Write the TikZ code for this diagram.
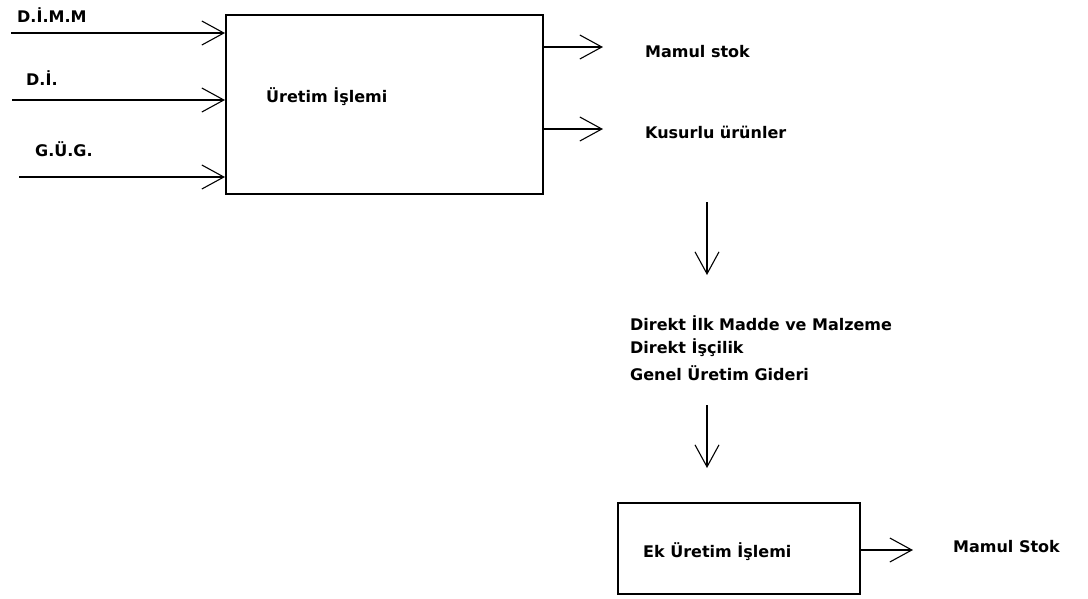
\documentclass[tikz,border=0pt]{standalone}
\usepackage{fontspec}
\setmainfont{DejaVu Sans}
\usetikzlibrary{arrows.meta}
\begin{document}
\begin{tikzpicture}[x=1pt,y=-1pt,
  flow/.style={line width=1.4pt,-{Straight Barb[length=22pt,width=24pt,line width=1.1pt]}},
  box/.style={draw,line width=1.6pt,anchor=north west,inner sep=0pt},
  lbl/.style={anchor=west,inner sep=0pt,font=\bfseries\fontsize{16}{19}\selectfont}]
\useasboundingbox (0,0) rectangle (1088,598);

% main process
\node[box,minimum width=317pt,minimum height=179pt] (main) at (225,14) {};
\node[lbl] (mainlbl) at (266,97) {Üretim İşlemi};

% inputs
\node[lbl] (dimm) at (17,15) {D.İ.M.M};
\node[lbl] (di) at (26,78) {D.İ.};
\node[lbl] (gug) at (35,149) {G.Ü.G.};
\coordinate (in1) at (11,33);
\coordinate (in2) at (12,100);
\coordinate (in3) at (19,177);
\draw[flow] (in1) -- (in1 -| main.west);
\draw[flow] (in2) -- (in2 -| main.west);
\draw[flow] (in3) -- (in3 -| main.west);

% outputs
\coordinate (o1) at (603,47);
\coordinate (o2) at (603,129);
\draw[flow] (o1 -| main.east) -- (o1);
\draw[flow] (o2 -| main.east) -- (o2);
\node[lbl] (mamul) at (645,52) {Mamul stok};
\node[lbl] (kusur) at (645,132) {Kusurlu ürünler};

% cost elements
\coordinate (d1a) at (707,202);
\coordinate (d1b) at (707,275);
\draw[flow] (d1a) -- (d1b);
\node[lbl] (c1) at (630,323) {Direkt İlk Madde ve Malzeme};
\node[lbl] (c2) at (630,348) {Direkt İşçilik};
\node[lbl] (c3) at (630,373) {Genel Üretim Gideri};
\coordinate (d2a) at (707,405);
\coordinate (d2b) at (707,468);
\draw[flow] (d2a) -- (d2b);

% additional process
\node[box,minimum width=242pt,minimum height=91pt] (ek) at (617,502) {};
\node[lbl] (eklbl) at (643,552) {Ek Üretim İşlemi};
\coordinate (o3) at (913,550);
\draw[flow] (o3 -| ek.east) -- (o3);
\node[lbl] (stok) at (953,547) {Mamul Stok};
\end{tikzpicture}
\end{document}
